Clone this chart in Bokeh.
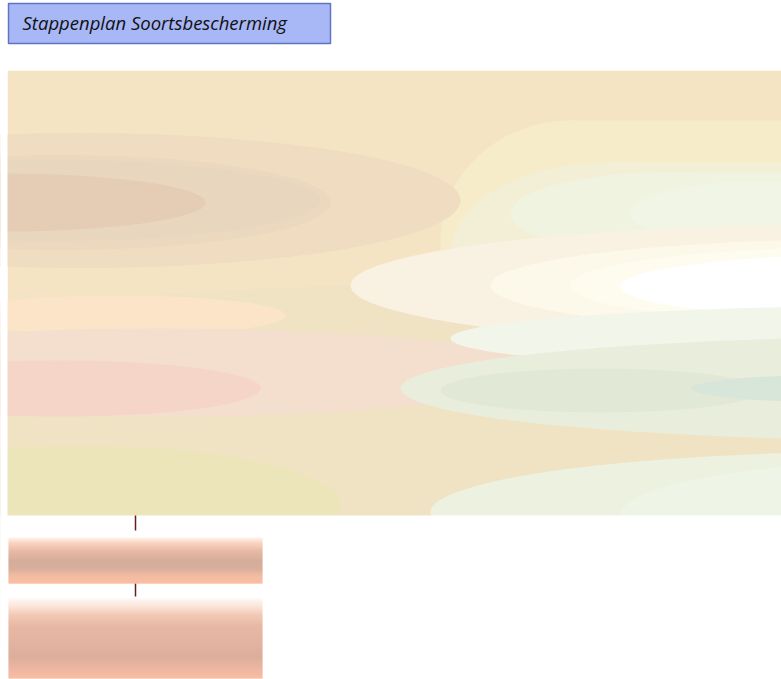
import numpy as np
from bokeh.plotting import figure
from bokeh.models import Range1d, ColumnDataSource
from bokeh.core.properties import value
from bokeh.embed import file_html
from bokeh.resources import INLINE

# ---- content (diagram boxes) ----
box_ids = ["title", "overview", "step1", "step2"]
box_text = ["Stappenplan Soortsbescherming", "", "", ""]
connectors = [("overview", "step1"), ("step1", "step2")]

# ---- layout / style (pixel coordinates, y downwards) ----
layout = {
    "title":    dict(x0=8, x1=330, y0=3, y1=43),
    "overview": dict(x0=7, x1=781, y0=70, y1=515),
    "step1":    dict(x0=8, x1=262, y0=537, y1=583),
    "step2":    dict(x0=8, x1=262, y0=598, y1=678),
}
conn_x = 135
conn_gap = [7, 2]

W, H = 781, 679
p = figure(width=W, height=H, output_backend="svg", toolbar_location=None,
           x_range=Range1d(0, W), y_range=Range1d(H, 0),
           min_border=0, min_border_left=0, min_border_right=0,
           min_border_top=0, min_border_bottom=0)
p.axis.visible = False
p.grid.visible = False
p.outline_line_color = None
p.background_fill_color = "white"
p.border_fill_color = "white"

ov = layout["overview"]
p.quad(left=[ov["x0"]], right=[ov["x1"]], top=[ov["y0"]], bottom=[ov["y1"]],
       fill_color="#f5e4c4", line_color=None)

def ell(cx, cy, w, h, c):
    p.ellipse(x=[cx], y=[cy], width=w, height=h, fill_color=c, line_color=None)

def rect(x0, x1, y0, y1, c):
    p.quad(left=[x0], right=[x1], top=[y0], bottom=[y1], fill_color=c, line_color=None)

# lower base
ell(390, 480, 1500, 390, "#f0e3c4")
# right pale yellow region
rect(570, 800, 120, 330, "#f6ecca")
ell(570, 240, 260, 240, "#f6ecca")
rect(610, 800, 162, 330, "#f3eed6")
ell(610, 252, 320, 180, "#f3eed6")
# left tan layers
ell(80, 200, 760, 135, "#efdcc1")
ell(60, 202, 540, 95, "#ecd8be")
ell(40, 200, 560, 82, "#e8d6bf")
ell(0, 202, 410, 58, "#e5ccb4")
# greenish band right
rect(670, 800, 172, 255, "#f0f3df")
ell(670, 213, 320, 83, "#f0f3df")
rect(750, 800, 182, 245, "#f0f5e6")
ell(750, 213, 240, 63, "#f0f5e6")
# middle bright streak
ell(850, 285, 1000, 122, "#f9f1e1")
ell(860, 285, 740, 92, "#fdf9ea")
ell(880, 285, 620, 78, "#fefcef")
ell(900, 286, 560, 66, "#ffffff")
# peach left middle
ell(120, 315, 330, 40, "#fbe4c8")
# lower-left pink
ell(160, 372, 780, 88, "#f4decd")
ell(60, 388, 400, 56, "#f5d5c8")
# lower-right greens
ell(930, 338, 960, 66, "#f2f5e9")
ell(930, 388, 1060, 104, "#e9eedc")
ell(600, 390, 320, 44, "#e2e8d6")
ell(850, 388, 320, 28, "#d8e6da")
# bottom
ell(80, 505, 520, 120, "#ece5ba")
ell(890, 512, 920, 122, "#edf2e0")
ell(930, 515, 620, 110, "#eff5e6")

# white masks around the overview area
rect(-10, W + 10, 44, ov["y0"], "white")
rect(-10, ov["x0"], 44, H + 10, "white")
rect(-10, W + 10, ov["y1"], H + 10, "white")

# connectors
p.segment(x0=[conn_x] * len(connectors), x1=[conn_x] * len(connectors),
          y0=[layout[a]["y1"] for a, b in connectors],
          y1=[layout[b]["y0"] - g for (a, b), g in zip(connectors, conn_gap)],
          line_color="#6e1a1a", line_width=1.5)

# gradient step boxes
def gradient_box(b, stops):
    pos = np.array([s[0] for s in stops], dtype=float)
    cols = np.array([[int(s[1][i:i + 2], 16) for i in (1, 3, 5)] for s in stops], dtype=float)
    ys = np.arange(b["y0"], b["y1"], 1.0)
    fr = (ys - b["y0"]) / (b["y1"] - b["y0"])
    rgb = np.stack([np.interp(fr, pos, cols[:, k]) for k in range(3)], axis=1)
    colors = ["#%02x%02x%02x" % tuple(int(round(v)) for v in c) for c in rgb]
    src = ColumnDataSource(dict(left=[b["x0"]] * len(ys), right=[b["x1"]] * len(ys),
                                top=list(ys), bottom=list(ys + 1.05), color=colors))
    p.quad(left="left", right="right", top="top", bottom="bottom",
           fill_color="color", line_color=None, source=src)

gradient_box(layout["step1"], [(0.0, "#fdf0e8"), (0.12, "#f8c3a6"), (0.3, "#dea186"),
                               (0.5, "#c8927a"), (0.68, "#cc947c"), (0.82, "#eea484"),
                               (1.0, "#f9a984")])
gradient_box(layout["step2"], [(0.0, "#fdf5f0"), (0.08, "#fbe0d2"), (0.2, "#eeb89e"),
                               (0.35, "#dfa085"), (0.55, "#d99b82"), (0.72, "#d0937b"),
                               (0.86, "#e49d83"), (1.0, "#f9a884")])

# title box
t = layout["title"]
p.quad(left=[t["x0"]], right=[t["x1"]], top=[t["y0"]], bottom=[t["y1"]],
       fill_color="#a8b7f6", line_color="#6075c2", line_width=1.5)
p.text(x=[t["x0"] + 14], y=[(t["y0"] + t["y1"]) / 2 - 1], text=[box_text[0]],
       text_font=value("Open Sans"), text_font_style="italic",
       text_font_size="18.5px", text_color="#111111",
       text_baseline="middle", text_align="left")

open("out.html", "w").write(file_html(p, INLINE))
